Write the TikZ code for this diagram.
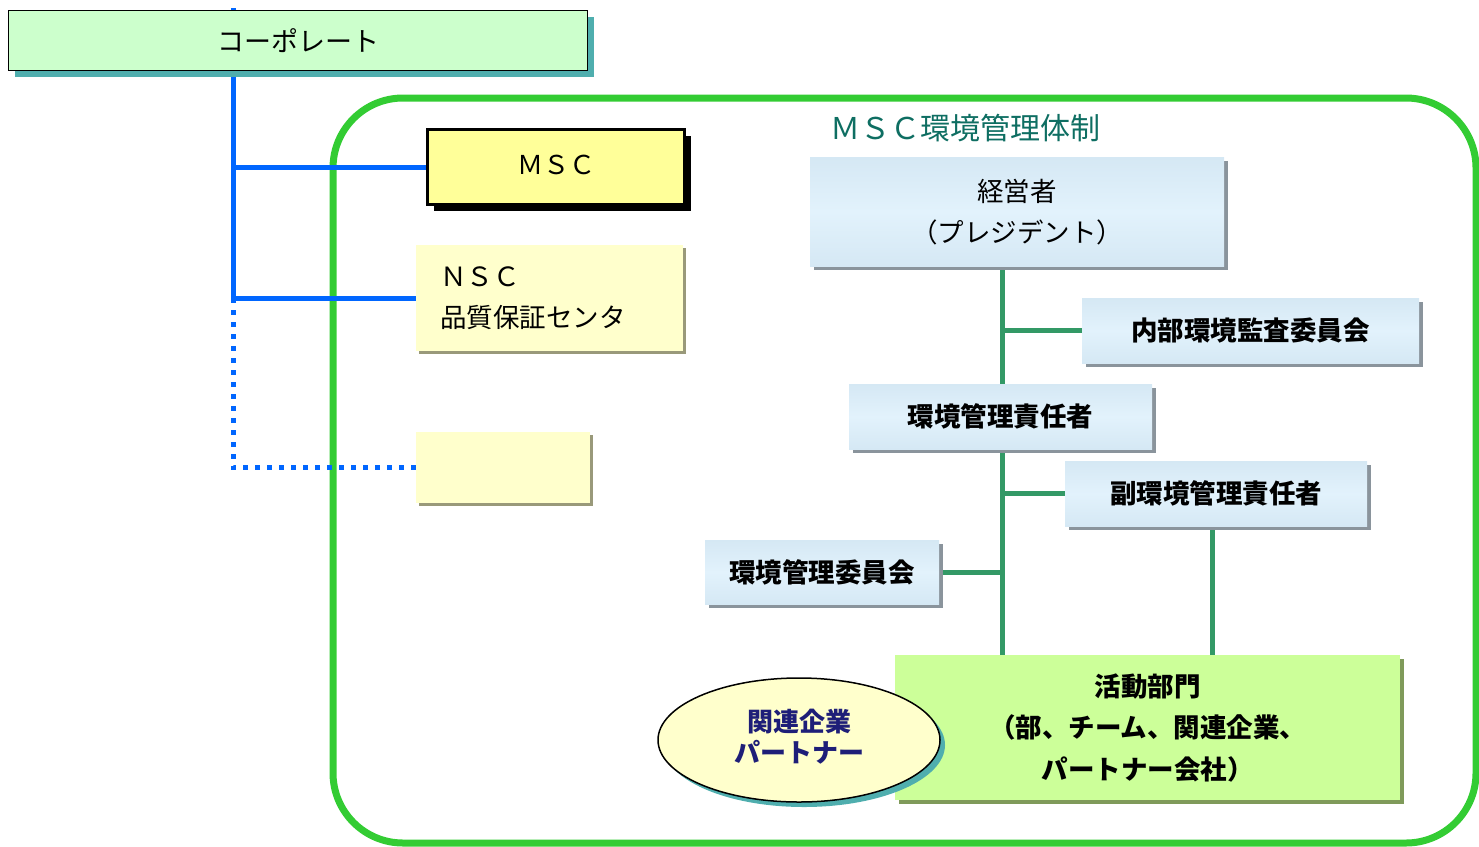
\documentclass[tikz,border=0pt]{standalone}
\usepackage{fontspec}
\setmainfont{Noto Sans CJK JP}
\usetikzlibrary{shapes.geometric,shadows,backgrounds}
\definecolor{corpfill}{HTML}{CCFFCC}
\definecolor{tealshadow}{HTML}{4FAEAE}
\definecolor{mscfill}{HTML}{FFFF99}
\definecolor{paleyellow}{HTML}{FFFFCC}
\definecolor{oliveshadow}{HTML}{99997A}
\definecolor{linkblue}{HTML}{0066FF}
\definecolor{framegreen}{HTML}{33CC33}
\definecolor{linkgreen}{HTML}{339966}
\definecolor{titleteal}{HTML}{0E6E62}
\definecolor{bluetop}{HTML}{D5E8F4}
\definecolor{bluemid}{HTML}{E2F2FC}
\definecolor{grayshadow}{HTML}{8A949C}
\definecolor{actfill}{HTML}{CCFF99}
\definecolor{actshadow}{HTML}{7F9A5A}
\definecolor{navytext}{HTML}{1E1E78}
\tikzset{
  bluebox/.style={rectangle, inner sep=0pt, anchor=north west, align=center,
    top color=bluetop, bottom color=bluetop, middle color=bluemid,
    drop shadow={shadow xshift=4pt, shadow yshift=-4pt, fill=grayshadow, opacity=1},
    font=\bfseries\fontsize{26.5}{41}\selectfont},
  yellowbox/.style={rectangle, inner sep=0pt, anchor=north west, fill=paleyellow,
    drop shadow={shadow xshift=3pt, shadow yshift=-3pt, fill=oliveshadow, opacity=1}},
  bluelink/.style={draw=linkblue, line width=5pt},
  bluedots/.style={draw=linkblue, line width=5pt, dash pattern=on 5pt off 7pt},
  greenlink/.style={draw=linkgreen, line width=5pt},
}
\begin{document}
\begin{tikzpicture}[x=1pt,y=-1pt]
\useasboundingbox (0,0) rectangle (1479,846);

% nodes
\node[rectangle, anchor=north west, minimum width=579pt, minimum height=60pt, inner sep=0pt,
  fill=corpfill, draw=black, line width=1pt,
  drop shadow={shadow xshift=6pt, shadow yshift=-6pt, fill=tealshadow, opacity=1},
  font=\fontsize{27}{30}\selectfont] (corp) at (8,10) {コーポレート};

\node[rectangle, anchor=north west, minimum width=257pt, minimum height=75pt, inner sep=0pt,
  fill=mscfill, draw=black, line width=3pt,
  drop shadow={shadow xshift=6pt, shadow yshift=-6pt, fill=black, opacity=1},
  font=\fontsize{26}{30}\selectfont] (msc) at (426,128) {\raisebox{4pt}{ＭＳＣ}};

\node[yellowbox, minimum width=267pt, minimum height=106pt, text width=219pt,
  inner xsep=24pt, align=left, font=\bfseries\fontsize{26.5}{41}\selectfont] (nsc) at (416,245)
  {\mdseries ＮＳＣ\\品質保証センタ};

\node[yellowbox, minimum width=174pt, minimum height=71pt] (empty) at (416,432) {};

\node[font=\fontsize{30}{34}\selectfont, text=titleteal] (title) at (965,128) {ＭＳＣ環境管理体制};

\node[bluebox, minimum width=414pt, minimum height=109pt, font=\fontsize{26.5}{41}\selectfont] (pres) at (810,157)
  {経営者\\（プレジデント）};
\node[bluebox, minimum width=337pt, minimum height=65pt] (audit) at (1082,298) {内部環境監査委員会};
\node[bluebox, minimum width=303pt, minimum height=65pt] (env) at (849,384) {環境管理責任者};
\node[bluebox, minimum width=302pt, minimum height=65pt] (deputy) at (1065,461) {副環境管理責任者};
\node[bluebox, minimum width=234pt, minimum height=64pt] (cmte) at (705,540) {環境管理委員会};

\node[rectangle, anchor=north west, minimum width=505pt, minimum height=145pt, inner sep=0pt,
  fill=actfill, align=center,
  drop shadow={shadow xshift=4pt, shadow yshift=-4pt, fill=actshadow, opacity=1},
  font=\bfseries\fontsize{26.5}{41.5}\selectfont] (act) at (895,655)
  {活動部門\\（部、チーム、関連企業、\\パートナー会社）};

\node[ellipse, minimum width=282pt, minimum height=124pt, inner sep=0pt,
  fill=paleyellow, draw=black, line width=1.5pt, text=navytext,
  drop shadow={shadow xshift=5pt, shadow yshift=-5pt, fill=tealshadow, opacity=1},
  font=\bfseries\fontsize{26}{30}\selectfont] (partner) at (799,740)
  {\raisebox{4pt}{\begin{tabular}{@{}c@{}}関連企業\\パートナー\end{tabular}}};

\coordinate (trunk) at (233,8);
\coordinate (dotstart) at (233,298);
\coordinate (spine) at (1002,0);
\coordinate (depx) at (1212,0);

\begin{scope}[on background layer]
  \draw[framegreen, line width=7pt, rounded corners=70pt] (333,98) rectangle (1476,843);
  \draw[bluelink] (trunk) |- (msc.west);
  \draw[bluelink] (trunk) |- (nsc.west);
  \draw[bluedots] (dotstart) |- (empty.west);
  \draw[greenlink] (pres.south -| spine) -- (env.north -| spine);
  \draw[greenlink] (audit.west) -- (audit.west -| spine);
  \draw[greenlink] (env.south -| spine) -- (act.north -| spine);
  \draw[greenlink] (deputy.west) -- (deputy.west -| spine);
  \draw[greenlink] (cmte.east) -- (cmte.east -| spine);
  \draw[greenlink] (deputy.south -| depx) -- (act.north -| depx);
\end{scope}
\end{tikzpicture}
\end{document}
